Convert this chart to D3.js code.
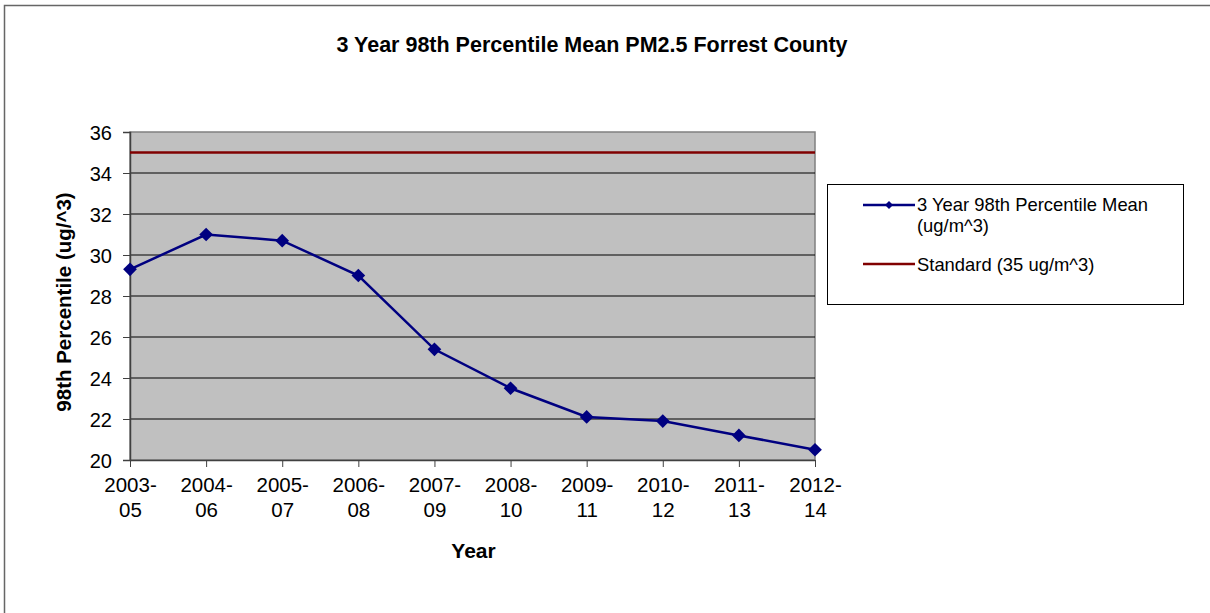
<!DOCTYPE html>
<html>
<head>
<meta charset="utf-8">
<script src="https://cdn.jsdelivr.net/npm/d3@7"></script>
<style>
  html, body { margin: 0; padding: 0; background: #fff; }
  svg text { font-family: "Liberation Sans", Arial, sans-serif; fill: #000; }
</style>
</head>
<body>
<svg id="chart" width="1210" height="613"></svg>
<script>
// Three-year 98th percentile PM2.5 design values, Forrest County
const periods = ["2003-05", "2004-06", "2005-07", "2006-08", "2007-09",
                 "2008-10", "2009-11", "2010-12", "2011-13", "2012-14"];
const meanValues = [29.3, 31.0, 30.7, 29.0, 25.4, 23.5, 22.1, 21.9, 21.2, 20.5];
const standardValue = 35;
const yTicks = [20, 22, 24, 26, 28, 30, 32, 34, 36];

const titleText = "3 Year 98th Percentile Mean PM2.5 Forrest County";
const yTitle = "98th Percentile (ug/^3)";
const xTitle = "Year";
const legendMean = ["3 Year 98th Percentile Mean", "(ug/m^3)"];
const legendStd = "Standard (35 ug/m^3)";

const svg = d3.select("#chart");
const plot = { left: 130, right: 815, top: 132, bottom: 460 };

// outer chart frame
svg.append("rect")
  .attr("x", 4.5).attr("y", 5.5)
  .attr("width", 1220).attr("height", 620)
  .attr("fill", "#fff").attr("stroke", "#666").attr("stroke-width", 1.5);

const x = d3.scalePoint().domain(periods).range([plot.left, plot.right]);
const y = d3.scaleLinear().domain([20, 36]).range([plot.bottom, plot.top]);

// plot area
svg.append("rect")
  .attr("x", plot.left).attr("y", plot.top)
  .attr("width", plot.right - plot.left).attr("height", plot.bottom - plot.top)
  .attr("fill", "#c0c0c0").attr("stroke", "#808080").attr("stroke-width", 1.5);

// horizontal gridlines
svg.append("g").selectAll("line")
  .data(yTicks.filter(t => t > 20 && t < 36))
  .join("line")
  .attr("x1", plot.left).attr("x2", plot.right)
  .attr("y1", d => y(d)).attr("y2", d => y(d))
  .attr("stroke", "#000").attr("stroke-width", 1);

// y axis
const yAxis = svg.append("g")
  .attr("transform", `translate(${plot.left},0)`)
  .call(d3.axisLeft(y).tickValues(yTicks).tickSize(7).tickPadding(11));
yAxis.select(".domain").attr("stroke", "#404040").attr("stroke-width", 1.5);
yAxis.selectAll(".tick line").attr("stroke", "#404040");
yAxis.selectAll("text").style("font-size", "20px").attr("dy", "0.35em");

// x axis
const xAxis = svg.append("g")
  .attr("transform", `translate(0,${plot.bottom})`)
  .call(d3.axisBottom(x).tickSize(7).tickSizeOuter(0).tickFormat(""));
xAxis.select(".domain").attr("stroke", "#404040").attr("stroke-width", 1.5);
xAxis.selectAll(".tick line").attr("stroke", "#404040");
xAxis.selectAll(".tick").each(function(d) {
  const parts = d.split("-");
  const t = d3.select(this).append("text")
    .attr("text-anchor", "middle")
    .style("font-size", "20.5px");
  t.append("tspan").attr("x", 0).attr("y", 32).text(parts[0] + "-");
  t.append("tspan").attr("x", 0).attr("y", 57).text(parts[1]);
});

// standard line
svg.append("line")
  .attr("x1", plot.left).attr("x2", plot.right)
  .attr("y1", y(standardValue)).attr("y2", y(standardValue))
  .attr("stroke", "#800000").attr("stroke-width", 2.5);

// mean series
const line = d3.line().x((d, i) => x(periods[i])).y(d => y(d));
svg.append("path")
  .datum(meanValues)
  .attr("d", line)
  .attr("fill", "none").attr("stroke", "#000080").attr("stroke-width", 2.5);

const diamond = d3.symbol().type(d3.symbolDiamond2).size(120);
svg.append("g").selectAll("path")
  .data(meanValues)
  .join("path")
  .attr("d", diamond)
  .attr("transform", (d, i) => `translate(${x(periods[i])},${y(d)})`)
  .attr("fill", "#000080");

// titles
svg.append("text")
  .attr("x", 592).attr("y", 52)
  .attr("text-anchor", "middle")
  .style("font-size", "21.5px").style("font-weight", "bold")
  .text(titleText);

svg.append("text")
  .attr("transform", `translate(71,${(plot.top + plot.bottom) / 2 + 6}) rotate(-90)`)
  .attr("text-anchor", "middle")
  .style("font-size", "20.5px").style("font-weight", "bold")
  .text(yTitle);

svg.append("text")
  .attr("x", (plot.left + plot.right) / 2 + 1).attr("y", 558)
  .attr("text-anchor", "middle")
  .style("font-size", "21px").style("font-weight", "bold")
  .text(xTitle);

// legend
const lg = svg.append("g");
lg.append("rect")
  .attr("x", 827.5).attr("y", 184.5).attr("width", 356).attr("height", 120)
  .attr("fill", "#fff").attr("stroke", "#000").attr("stroke-width", 1);
lg.append("line")
  .attr("x1", 863).attr("x2", 915).attr("y1", 205).attr("y2", 205)
  .attr("stroke", "#000080").attr("stroke-width", 2.5);
lg.append("path")
  .attr("d", d3.symbol().type(d3.symbolDiamond2).size(40))
  .attr("transform", "translate(889,205)")
  .attr("fill", "#000080");
lg.selectAll("text.mean")
  .data(legendMean)
  .join("text")
  .attr("class", "mean")
  .attr("x", 917).attr("y", (d, i) => 211 + i * 20.5)
  .style("font-size", "18.4px")
  .text(d => d);
lg.append("line")
  .attr("x1", 863).attr("x2", 915).attr("y1", 264).attr("y2", 264)
  .attr("stroke", "#800000").attr("stroke-width", 2.5);
lg.append("text")
  .attr("x", 917).attr("y", 270.5)
  .style("font-size", "18.4px")
  .text(legendStd);
</script>
</body>
</html>
